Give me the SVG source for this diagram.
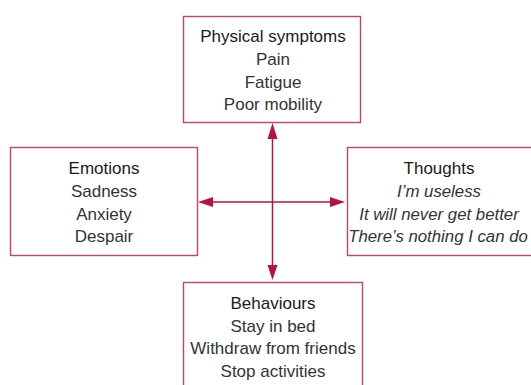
<svg xmlns="http://www.w3.org/2000/svg" width="531" height="385" viewBox="0 0 531 385">
<style>
  .box { fill: #ffffff; stroke: #c7406a; stroke-width: 1.4; }
  .t { font-family: "Liberation Sans", Arial, sans-serif; font-size: 17px; text-anchor: middle; fill: #333333; }
  .h { fill: #1a1a1a; }
  .i { font-style: italic; font-size: 16.8px; }
  .conn { stroke: #b8123f; stroke-width: 1.5; fill: none; }
  .head { fill: #b8123f; }
</style>
<rect width="531" height="385" fill="#ffffff"/>
<g id="connectors">
  <line class="conn" x1="272.5" y1="138" x2="272.5" y2="266"/>
  <line class="conn" x1="212" y1="202" x2="331" y2="202"/>
  <polygon class="head" points="272.5,123 267.5,139 277.5,139"/>
  <polygon class="head" points="272.5,280 267.5,265 277.5,265"/>
  <polygon class="head" points="198,202 213,197 213,207"/>
  <polygon class="head" points="345,202 330,197 330,207"/>
</g>
<g id="physical">
  <rect class="box" x="183.5" y="16.5" width="177" height="106"/>
  <text class="t h" x="273" y="42">Physical symptoms</text>
  <text class="t" x="273" y="65">Pain</text>
  <text class="t" x="273" y="87.5">Fatigue</text>
  <text class="t" x="273" y="110">Poor mobility</text>
</g>
<g id="emotions">
  <rect class="box" x="10.5" y="147.5" width="187" height="108"/>
  <text class="t h" x="104" y="174">Emotions</text>
  <text class="t" x="104" y="197">Sadness</text>
  <text class="t" x="104" y="219.5">Anxiety</text>
  <text class="t" x="104" y="242">Despair</text>
</g>
<g id="thoughts">
  <rect class="box" x="347.5" y="147.5" width="200" height="108"/>
  <text class="t h" x="439" y="174">Thoughts</text>
  <text class="t i" x="439" y="197">I’m useless</text>
  <text class="t i" x="439" y="219.5">It will never get better</text>
  <text class="t i" x="438" y="242">There’s nothing I can do</text>
</g>
<g id="behaviours">
  <rect class="box" x="183.5" y="282.5" width="179" height="120"/>
  <text class="t h" x="273" y="309">Behaviours</text>
  <text class="t" x="273" y="331.5">Stay in bed</text>
  <text class="t" x="273" y="354">Withdraw from friends</text>
  <text class="t" x="273" y="376.5">Stop activities</text>
</g>
</svg>
